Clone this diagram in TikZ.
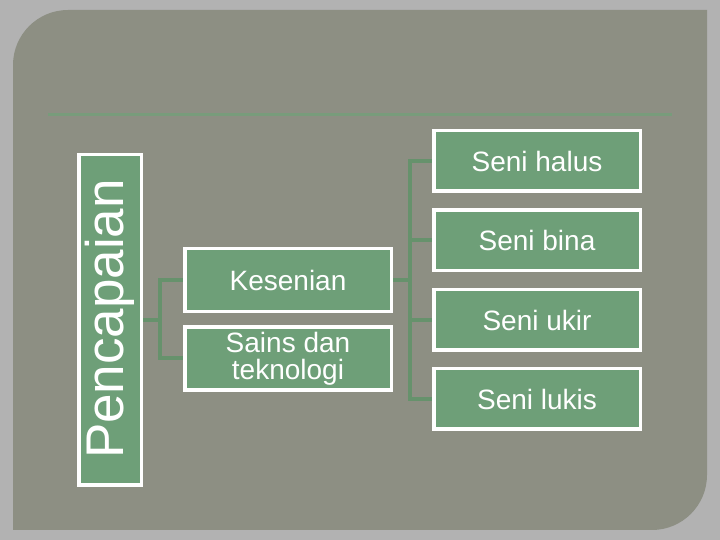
\documentclass[tikz,border=0pt]{standalone}
\usepackage{fontspec}
\setmainfont{Liberation Sans}
\definecolor{outerbg}{HTML}{B2B2B2}
\definecolor{panelc}{HTML}{8D8F83}
\definecolor{boxfill}{HTML}{6E9F78}
\definecolor{linkc}{HTML}{66926C}
\definecolor{rulec}{HTML}{789C7B}
\pgfdeclarelayer{bglayer}
\pgfdeclarelayer{linklayer}
\pgfsetlayers{bglayer,linklayer,main}
\begin{document}
\begin{tikzpicture}[x=1pt,y=1pt,
  box/.style={draw=white, line width=3.5pt, fill=boxfill, text=white, inner sep=0pt, outer sep=0pt,
    font=\fontsize{28}{27}\selectfont, align=center},
  rbox/.style={box, minimum width=206.5pt, minimum height=60.5pt},
  lbox/.style={box, minimum width=206.5pt, minimum height=63pt},
  link/.style={draw=linkc, line width=4pt}]
\useasboundingbox (0,0) rectangle (720,540);
\begin{pgfonlayer}{bglayer}
\fill[outerbg] (0,0) rectangle (720,540);
\fill[panelc] (13,10) -- (13,475) arc[start angle=180,end angle=90,radius=55] -- (707,530)
  -- (707,65) arc[start angle=0,end angle=-90,radius=55] -- cycle;
\draw[rulec, line width=3pt] (48,425) -- (672,425);
\end{pgfonlayer}
% nodes
\node[box, minimum width=62.5pt, minimum height=330.5pt] (pen) at (110,220) {};
\node[rotate=90, text=white, font=\fontsize{53}{53}\selectfont, inner sep=0pt] (pentext) at (110,221) {Pencapaian};
\node[lbox] (kes) at (288,260) {Kesenian};
\node[lbox] (sains) at (288,181.5) {Sains dan\\teknologi};
\node[rbox] (halus) at (537,379) {Seni halus};
\node[rbox] (bina) at (537,299.5) {Seni bina};
\node[rbox] (ukir) at (537,220) {Seni ukir};
\node[rbox] (lukis) at (537,141) {Seni lukis};
% connectors
\begin{pgfonlayer}{linklayer}
\path[link] (pen.east) -- ++(19,0) |- (kes.west);
\path[link] (pen.east) -- ++(19,0) |- (sains.west);
\path[link] (kes.east) -- ++(19,0) |- (halus.west);
\path[link] (kes.east) -- ++(19,0) |- (bina.west);
\path[link] (kes.east) -- ++(19,0) |- (ukir.west);
\path[link] (kes.east) -- ++(19,0) |- (lukis.west);
\end{pgfonlayer}
\end{tikzpicture}
\end{document}
